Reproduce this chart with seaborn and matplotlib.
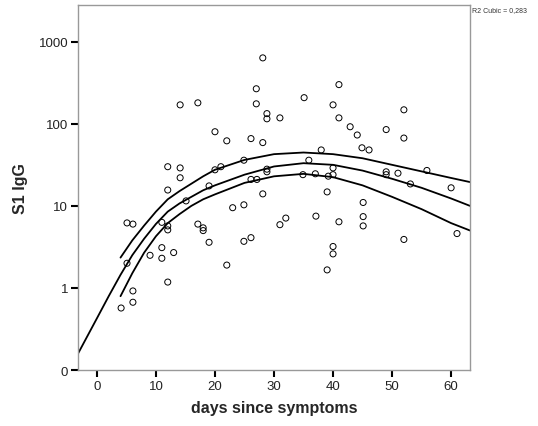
import pandas as pd
import seaborn as sns
import matplotlib
matplotlib.use('Agg')
import matplotlib.pyplot as plt

# scatter values
days = [28.1, 27.0, 27.0, 14.1, 17.1, 28.8, 28.8, 20.0, 22.0, 26.1,
        28.1, 12.0, 14.1, 14.1, 12.0, 15.1, 19.0, 20.0, 21.0, 24.9,
        26.1, 27.1, 28.1, 23.0, 24.9, 28.8, 28.8, 41.0, 35.1, 40.0,
        31.0, 41.0, 42.9, 44.1, 49.0, 52.0, 52.0, 44.9, 46.1, 38.0,
        35.9, 34.9, 37.0, 40.0, 40.0, 39.2, 49.0, 49.0, 51.0, 53.1,
        55.9, 60.0, 39.0, 45.1, 31.0, 32.0, 37.1, 41.0, 45.1, 45.1,
        40.0, 40.0, 39.0, 52.0, 61.0, 5.1, 6.1, 11.0, 12.0, 12.0,
        17.1, 18.0, 18.0, 19.0, 22.0, 24.9, 26.1, 5.1, 9.0, 11.0,
        11.0, 13.0, 12.0, 6.1, 6.1, 4.1]
igg = [635, 267, 175, 170, 180, 133, 115, 80, 62, 66,
       59, 30, 29, 22, 15.6, 11.5, 17.5, 27.5, 30, 36,
       21, 21, 14, 9.5, 10.3, 28, 26, 300, 208, 170,
       118, 118, 92, 73, 85, 148, 67, 51, 48, 48,
       36, 24, 24.6, 29, 24, 23, 26, 24, 25, 18.5,
       27, 16.6, 14.8, 11, 5.9, 7.1, 7.5, 6.4, 7.4, 5.7,
       3.2, 2.6, 1.66, 3.9, 4.6, 6.2, 6.0, 6.3, 5.7, 5.1,
       6.0, 5.4, 5.0, 3.6, 1.9, 3.7, 4.1, 2.0, 2.5, 3.1,
       2.3, 2.7, 1.18, 0.92, 0.67, 0.57]

# cubic fit line and its 95% band (log10 of S1 IgG)
fit_days = [-3.2, 0, 2, 4, 6, 8, 10, 12, 14, 16, 18, 20, 25, 30, 35, 40, 45, 50, 55, 60, 63.2]
fit_mid = [-0.80, -0.37, -0.10, 0.16, 0.40, 0.60, 0.78, 0.93, 1.03, 1.11, 1.19, 1.25,
           1.38, 1.48, 1.52, 1.50, 1.43, 1.33, 1.22, 1.09, 1.00]
band_days = [4, 6, 8, 10, 12, 14, 16, 18, 20, 25, 30, 35, 40, 45, 50, 55, 60, 63.2]
band_upper = [0.37, 0.58, 0.76, 0.93, 1.08, 1.18, 1.27, 1.36, 1.44, 1.56, 1.63, 1.65,
              1.63, 1.58, 1.50, 1.42, 1.34, 1.29]
band_lower = [-0.10, 0.18, 0.43, 0.63, 0.79, 0.90, 1.00, 1.08, 1.14, 1.28, 1.36, 1.39,
              1.35, 1.25, 1.11, 0.96, 0.79, 0.70]

y_ticks = [0.1, 1, 10, 100, 1000]
y_tick_labels = ['0', '1', '10', '100', '1000']
x_ticks = [0, 10, 20, 30, 40, 50, 60]
r2_cubic = '0,283'

df = pd.DataFrame({'days': days, 'igg': igg})
fit = pd.DataFrame({'days': fit_days, 'igg': [10 ** v for v in fit_mid]})
band = pd.DataFrame({'days': band_days,
                     'upper': [10 ** v for v in band_upper],
                     'lower': [10 ** v for v in band_lower]})

sns.set_style('white')
plt.rcParams['font.family'] = ['Liberation Sans', 'DejaVu Sans']

fig = plt.figure(figsize=(5.38, 4.27), dpi=100)
ax = fig.add_axes([0.145, 0.131, 0.7286, 0.855])

sns.scatterplot(data=df, x='days', y='igg', ax=ax, s=19, marker='o',
                facecolors='none', edgecolor='black', linewidth=0.7)
sns.lineplot(data=fit, x='days', y='igg', ax=ax, color='black', lw=1.3)
sns.lineplot(data=band, x='days', y='upper', ax=ax, color='black', lw=1.3)
sns.lineplot(data=band, x='days', y='lower', ax=ax, color='black', lw=1.3)

ax.set_yscale('log')
ax.set_ylim(0.1, 2800)
ax.set_xlim(-3.2, 63.2)
ax.set_yticks(y_ticks)
ax.set_yticklabels(y_tick_labels)
ax.set_xticks(x_ticks)
ax.minorticks_off()
ax.tick_params(axis='both', direction='out', length=5, width=1.5, color='black',
               labelsize=9.5, labelcolor='#222222', pad=2, left=True, bottom=True)
for sp in ax.spines.values():
    sp.set_color('#999999')
    sp.set_linewidth(1.0)

ax.set_xlabel('days since symptoms', fontsize=11.5, fontweight='bold', labelpad=6)
ax.set_ylabel('S1 IgG', fontsize=11.5, fontweight='bold', labelpad=8)

fig.text(0.877, 0.975, f'R2 Cubic = {r2_cubic}', fontsize=5, color='#333333',
         ha='left', va='center')

fig.savefig('out.png', dpi=100)
